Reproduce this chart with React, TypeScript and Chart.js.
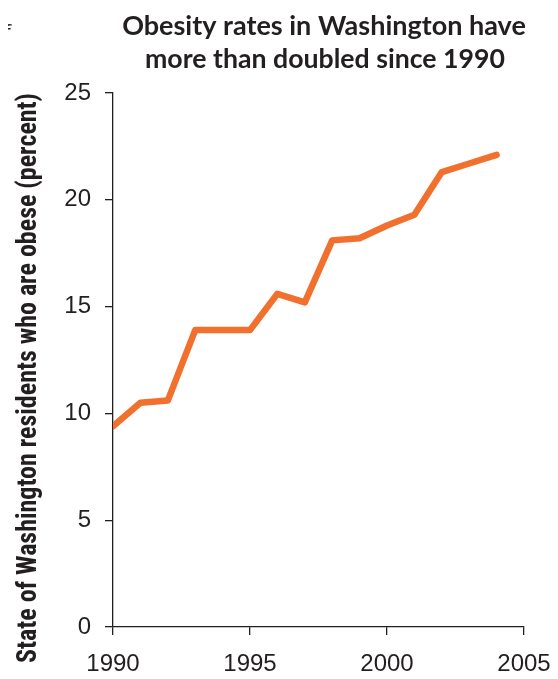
import React, { useEffect, useRef } from "react";
import { Chart, registerables } from "chart.js";

Chart.register(...registerables);

const years = [1990, 1991, 1992, 1993, 1994, 1995, 1996, 1997, 1998, 1999, 2000, 2001, 2002, 2003, 2004];
const obesityPercent = [9.4, 10.5, 10.6, 13.9, 13.9, 13.9, 15.6, 15.2, 18.1, 18.2, 18.8, 19.3, 21.3, 21.7, 22.1];
const titleLines = ["Obesity rates in Washington have", "more than doubled since 1990"];
const yAxisTitle = "State of Washington residents who are obese (percent)";
const fragmentText = "of";

const AXIS_COLOR = "#231f20";
const LINE_COLOR = "#f2702d";

const textPlugin = {
  id: "customText",
  afterDraw(chart: any) {
    const ctx = chart.ctx as CanvasRenderingContext2D;
    const area = chart.chartArea;
    ctx.save();
    ctx.fillStyle = "#231f20";
    // title
    ctx.font = "bold 27px Lato, 'Open Sans', sans-serif";
    ctx.textAlign = "center";
    ctx.textBaseline = "alphabetic";
    ctx.fillText(titleLines[0], 324, 35, 404);
    ctx.fillText(titleLines[1], 325, 68, 360);
    // fragment of neighbouring text
    ctx.font = "22px 'Open Sans', 'Liberation Sans', sans-serif";
    ctx.textAlign = "right";
    ctx.fillText(fragmentText, 11, 40);
    // y-axis title
    ctx.translate(36, (area.top + 663) / 2);
    ctx.rotate(-Math.PI / 2);
    ctx.font = "bold 27px 'Roboto Condensed', 'Liberation Sans', sans-serif";
    ctx.textAlign = "center";
    ctx.textBaseline = "alphabetic";
    ctx.fillText(yAxisTitle, 0, 0, 570);
    ctx.restore();
  },
};

export default function App() {
  const ref = useRef<HTMLCanvasElement | null>(null);
  useEffect(() => {
    if (!ref.current) return;
    const chart = new Chart(ref.current, {
      type: "line",
      data: {
        datasets: [
          {
            data: years.map((y, i) => ({ x: y, y: obesityPercent[i] })),
            borderColor: LINE_COLOR,
            borderWidth: 6.5,
            borderCapStyle: "round",
            borderJoinStyle: "round",
            pointRadius: 0,
            tension: 0,
            fill: false,
          },
        ],
      },
      options: {
        animation: false,
        responsive: false,
        maintainAspectRatio: false,
        layout: { padding: { top: 93, right: 34, left: 0, bottom: 0 } },
        plugins: { legend: { display: false }, title: { display: false }, tooltip: { enabled: false } },
        scales: {
          x: {
            type: "linear",
            min: 1990,
            max: 2005,
            afterFit(scale: any) {
              scale.height = 52;
              scale.paddingLeft = 0;
              scale.paddingRight = 0;
            },
            ticks: {
              stepSize: 5,
              color: "#231f20",
              font: { family: "'Liberation Sans', Arial, sans-serif", size: 24, lineHeight: 1 },
              padding: 17,
              maxRotation: 0,
              callback: (v: any) => String(v),
            },
            grid: { drawOnChartArea: false, drawTicks: true, tickLength: 8, color: AXIS_COLOR, lineWidth: 1.3 },
            border: { color: AXIS_COLOR, width: 1.3 },
          },
          y: {
            min: 0,
            max: 25,
            afterFit(scale: any) {
              scale.width = 113;
            },
            ticks: {
              stepSize: 5,
              color: "#231f20",
              font: { family: "'Liberation Sans', Arial, sans-serif", size: 24 },
              padding: 14,
            },
            grid: { drawOnChartArea: false, drawTicks: true, tickLength: 8, color: AXIS_COLOR, lineWidth: 1.3 },
            border: { color: AXIS_COLOR, width: 1.3 },
          },
        },
      },
      plugins: [textPlugin],
    });
    return () => chart.destroy();
  }, []);
  return (
    <div style={{ margin: -8, width: 558, height: 679, position: "relative" }}>
      <canvas ref={ref} width={558} height={679} style={{ display: "block", width: 558, height: 679 }} />
    </div>
  );
}
